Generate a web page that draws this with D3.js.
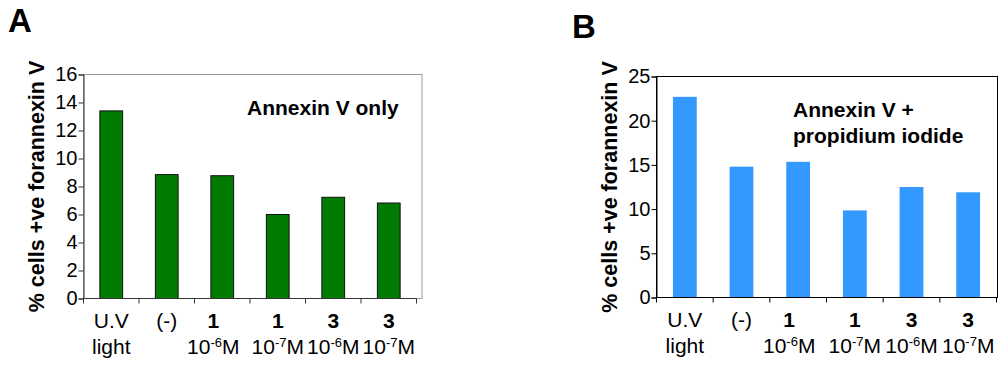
<!DOCTYPE html>
<html>
<head>
<meta charset="utf-8">
<script src="https://cdn.jsdelivr.net/npm/d3@7"></script>
<style>
  body { margin: 0; background: #fff; }
  text { font-family: "Liberation Sans", Arial, sans-serif; }
</style>
</head>
<body>
<div id="chart"></div>
<script>
// categories (x labels, two lines)
const treatments = ["uv", "neg", "c1e6", "c1e7", "c3e6", "c3e7"];
const line1 = ["U.V", "(-)", "1", "1", "3", "3"];
const line1Bold = [false, false, true, true, true, true];
const line2Base = ["light", "", "10", "10", "10", "10"];
const line2Exp = ["", "", "-6", "-7", "-6", "-7"];
const line2Unit = ["", "", "M", "M", "M", "M"];

// values
const annexinOnly = [13.4, 8.85, 8.77, 6.0, 7.23, 6.82];
const annexinPI = [22.7, 14.8, 15.35, 9.85, 12.5, 11.9];

const ticksA = [0, 2, 4, 6, 8, 10, 12, 14, 16];
const ticksB = [0, 5, 10, 15, 20, 25];

const yTitle = "% cells +ve forannexin V";

const svg = d3.select("#chart").append("svg")
    .attr("width", 1002)
    .attr("height", 367);

function panel(opt) {
    const x = d3.scaleBand()
        .domain(treatments)
        .range([opt.left, opt.right]);
    const y = d3.scaleLinear()
        .domain([0, opt.max])
        .range([opt.bottom, opt.top]);
    const g = svg.append("g");

    // plot frame
    g.append("rect")
        .attr("x", opt.left)
        .attr("y", opt.top)
        .attr("width", opt.frameRight - opt.left)
        .attr("height", opt.bottom - opt.top)
        .attr("fill", "none")
        .attr("stroke", opt.frameColor)
        .attr("stroke-width", 1);

    // bars
    g.selectAll("rect.bar")
        .data(opt.values)
        .enter()
        .append("rect")
        .attr("class", "bar")
        .attr("x", (d, i) => x(treatments[i]) + x.bandwidth() * (1 - opt.barFrac) / 2)
        .attr("y", d => y(d))
        .attr("width", x.bandwidth() * opt.barFrac)
        .attr("height", d => y(0) - y(d))
        .attr("fill", opt.fill)
        .attr("stroke", opt.barStroke)
        .attr("stroke-width", opt.barStroke === "none" ? 0 : 1);

    // y axis
    const ya = g.append("g")
        .attr("transform", `translate(${opt.left},0)`)
        .call(d3.axisLeft(y).tickValues(opt.ticks).tickSize(5).tickPadding(1));
    ya.select(".domain").attr("stroke", opt.axisColor);
    ya.selectAll(".tick line").attr("stroke", opt.axisColor);
    ya.selectAll(".tick text")
        .attr("font-size", 20)
        .attr("font-family", "Liberation Sans, Arial, sans-serif")
        .attr("fill", "#000");

    // bottom axis with ticks at band edges
    const edges = treatments.map(t => x(t)).concat([opt.right]);
    g.append("line")
        .attr("x1", opt.left).attr("x2", opt.right)
        .attr("y1", opt.bottom).attr("y2", opt.bottom)
        .attr("stroke", opt.axisColor);
    g.selectAll("line.xt")
        .data(edges)
        .enter()
        .append("line")
        .attr("class", "xt")
        .attr("x1", d => d).attr("x2", d => d)
        .attr("y1", opt.bottom).attr("y2", opt.bottom + 5)
        .attr("stroke", opt.axisColor);

    // x labels (third label sits a little left of its band in the original)
    treatments.forEach((t, i) => {
        const cx = x(t) + x.bandwidth() / 2 - (i === 2 ? 9 : 0);
        g.append("text")
            .attr("x", cx)
            .attr("y", opt.bottom + 29)
            .attr("text-anchor", "middle")
            .attr("font-size", 21)
            .attr("font-weight", line1Bold[i] ? "bold" : "normal")
            .text(line1[i]);
        const t2 = g.append("text")
            .attr("x", cx)
            .attr("y", opt.bottom + 55)
            .attr("text-anchor", "middle")
            .attr("font-size", 21);
        t2.append("tspan").text(line2Base[i]);
        if (line2Exp[i]) {
            t2.append("tspan").attr("font-size", 13).attr("dy", -7).text(line2Exp[i]);
            t2.append("tspan").attr("dy", 7).text(line2Unit[i]);
        }
    });

    // y title
    g.append("text")
        .attr("transform", `translate(${opt.titleX},${(opt.top + opt.bottom) / 2}) rotate(-90)`)
        .attr("text-anchor", "middle")
        .attr("font-size", 21.5)
        .attr("font-weight", "bold")
        .text(yTitle);

    // annotation
    opt.note.forEach((s, k) => {
        g.append("text")
            .attr("x", opt.noteX)
            .attr("y", opt.noteY + k * 26)
            .attr("font-size", 21)
            .attr("font-weight", "bold")
            .text(s);
    });

    // panel letter
    svg.append("text")
        .attr("x", opt.letterX)
        .attr("y", opt.letterY)
        .attr("font-size", 33)
        .attr("font-weight", "bold")
        .text(opt.letter);
}

panel({
    letter: "A", letterX: 8, letterY: 32,
    values: annexinOnly, max: 16, ticks: ticksA,
    left: 83.5, right: 416.5, frameRight: 422, top: 74.5, bottom: 298.5,
    fill: "#007a00", barStroke: "#111", barFrac: 0.41,
    axisColor: "#333", frameColor: "#999",
    titleX: 44, note: ["Annexin V only"], noteX: 247, noteY: 115
});

panel({
    letter: "B", letterX: 572, letterY: 38,
    values: annexinPI, max: 25, ticks: ticksB,
    left: 656.5, right: 996.5, frameRight: 997.5, top: 76.5, bottom: 297.5,
    fill: "#3399ff", barStroke: "none", barFrac: 0.42,
    axisColor: "#000", frameColor: "#000",
    titleX: 617, note: ["Annexin V +", "propidium iodide"], noteX: 793, noteY: 117
});
</script>
</body>
</html>
